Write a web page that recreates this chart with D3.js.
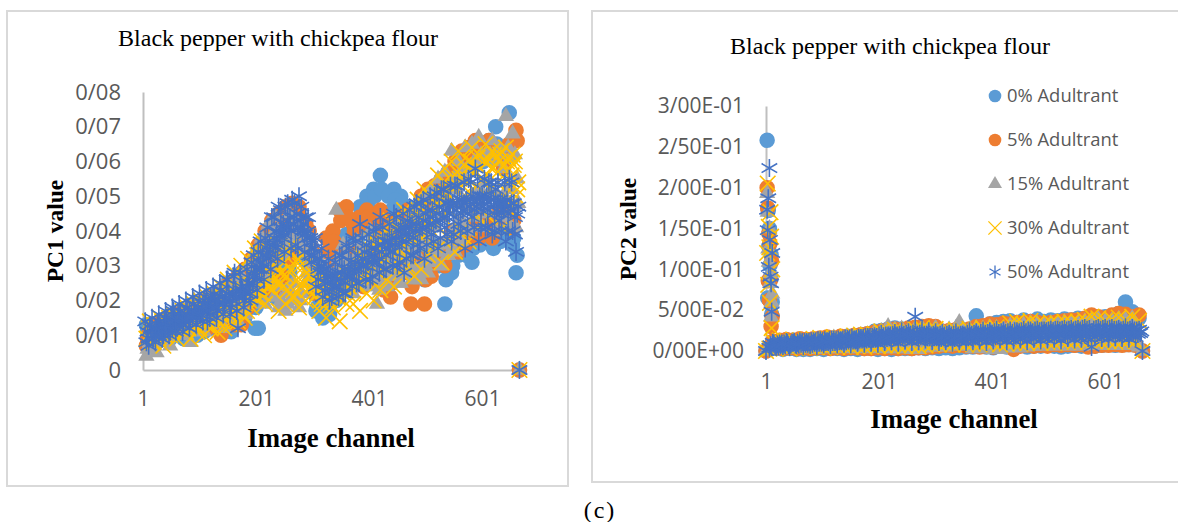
<!DOCTYPE html>
<html>
<head>
<meta charset="utf-8">
<script src="https://cdn.jsdelivr.net/npm/d3@7"></script>
<style>
html, body { margin: 0; background: #fff; }
text { font-family: "Open Sans", sans-serif; fill: #595959; }
.serif { font-family: "Liberation Serif", serif; fill: #000; }
</style>
</head>
<body>
<svg id="chart" width="1178" height="522"></svg>
<script>
//image channels sampled along the band, last one is the zero point at the end of the axis
var channels = d3.range(7, 668, 6).concat([668]);
var channelsB = d3.range(9, 668, 6);
var channelsC = d3.range(11, 668, 6);
var channelsD = d3.range(5, 668, 6);
var spikeChannels = [1, 3, 4, 5, 6, 7, 8, 9, 10, 11, 12];

var names = ['0% Adultrant', '5% Adultrant', '15% Adultrant', '30% Adultrant', '50% Adultrant'];

//PC1 values, in thousandths
var pc1_0 = [13,9,12,8,14,10,15,9,16,11, 14,9,17,10,18,10,19,11,20,12, 21,12,23,13,25,11,26,14,28,15,
	24,30,12,12,20,37,23,41,21,44, 25,46,30,47,33,44,36,40,30,26, 17,22,15,28,16,33,20,38,24,39,
	29,43,30,47,33,50,34,52,36,56, 37,51,39,52,35,50,30,47,28,44, 30,46,26,48,33,50,35,53,19,56,
	28,58,33,61,36,62,31,64,40,63, 37,66,36,70,38,63,42,74,36,28, 0];
var pc1_0b = [11,10,13,9,12,11,14,10,13,12, 12,11,15,12,16,11,17,12,18,13, 19,13,21,14,22,15,24,16,26,17,
	26,27,18,20,24,33,27,38,30,42, 33,44,28,45,35,42,32,38,28,22, 18,18,17,24,19,30,24,35,28,37,
	33,42,38,45,41,48,43,50,44,52, 45,50,46,49,40,48,36,46,33,42, 35,44,30,46,36,48,30,50,26,52,
	30,55,36,58,33,60,35,60,36,60, 38,62,35,65,37,60,40,62,38,33];
var pc1_5 = [7,11,8,13,9,14,10,15,11,16, 12,17,11,18,13,19,14,20,12,21, 13,22,10,24,14,25,13,27,13,29,
	18,32,22,36,25,40,24,43,22,45, 27,47,32,48,35,47,38,42,40,34, 22,30,24,38,27,40,30,46,33,47,
	27,42,29,44,24,46,28,41,25,46, 23,43,21,40,26,44,28,46,19,42, 30,50,19,52,27,53,32,55,30,57,
	38,60,34,63,36,64,40,66,38,65, 42,66,38,64,46,60,44,65,41,69, 0];
var pc1_5b = [9,10,11,12,10,13,12,12,13,14, 14,15,13,16,15,17,13,18,15,19, 15,20,12,22,16,23,15,25,17,27,
	20,30,25,34,28,38,30,41,33,43, 36,45,38,46,40,44,36,40,36,30, 25,28,26,34,29,37,33,43,35,44,
	33,40,34,42,30,44,33,40,30,43, 27,41,25,38,28,42,30,44,24,40, 32,47,26,49,30,50,33,52,33,54,
	40,57,37,60,38,62,42,63,40,62, 44,63,40,62,44,58,46,62,43,66];
var pc1_15 = [4,8,11,5,13,9,15,7,14,10, 17,10,18,8,20,12,19,11,21,13, 22,14,24,12,23,15,25,14,27,16,
	30,20,34,22,38,19,42,24,44,18, 40,17,45,22,43,18,41,25,38,28, 33,22,30,20,26,24,46,25,36,28,
	30,22,37,26,33,24,40,28,19,27, 38,24,34,27,42,25,38,29,44,26, 46,26,50,28,52,31,55,30,57,33,
	63,34,60,37,64,40,65,44,67,41, 62,45,66,40,64,44,73,42,68,41, 0];
var pc1_15b = [6,9,7,10,8,11,9,12,10,13, 12,14,11,15,13,16,14,17,15,18, 16,19,17,20,18,21,19,22,20,24,
	23,26,27,29,31,33,35,30,37,24, 33,22,38,25,36,20,34,28,31,24, 27,23,25,22,24,26,29,27,30,29,
	28,31,27,33,25,30,26,28,24,30, 26,31,27,33,25,32,28,30,26,34, 28,36,30,38,32,41,34,44,37,48,
	40,52,43,55,46,58,50,60,52,61, 54,62,50,60,48,58,52,61,47,55];
var pc1_15c = [7,6,9,8,10,9,11,10,12,11, 14,12,15,13,16,14,17,15,18,16, 19,16,20,17,21,18,22,19,23,20,
	26,22,30,25,34,26,38,21,40,20, 36,19,42,20,39,22,37,26,35,25, 30,24,28,23,27,25,32,26,33,27,
	29,26,34,29,30,27,36,29,23,28, 33,28,30,29,36,28,34,31,38,29, 40,30,44,32,46,34,48,36,50,38,
	55,40,57,42,58,46,60,48,62,50, 60,52,62,50,62,50,64,52,62,48];
var pc1_30 = [9,14,8,12,15,7,13,10,16,9, 16,12,18,9,19,11,20,10,21,12, 22,11,24,12,26,13,28,14,30,15,
	32,18,35,20,37,19,33,23,31,17, 28,19,34,21,30,18,33,20,27,22, 24,17,26,15,23,18,22,14,20,19,
	25,19,30,17,32,22,38,20,34,23, 40,26,43,24,38,28,46,30,44,27, 49,29,52,33,50,36,56,31,58,38,
	60,34,63,40,61,37,64,45,62,42, 65,44,63,48,60,41,64,46,62,50, 0];
var pc1_30b = [9,11,10,12,11,10,13,12,14,12, 13,14,12,15,13,16,14,15,13,16, 15,17,14,18,16,18,17,19,16,21,
	20,23,21,24,22,26,24,27,25,28, 24,27,29,23,26,30,25,28,24,26, 22,20,21,24,19,23,21,24,26,22,
	25,28,24,30,27,29,26,31,28,33, 32,35,30,37,34,36,33,39,37,41, 40,38,43,41,45,42,47,44,50,46,
	52,48,55,50,54,51,57,53,58,55, 60,52,58,54,62,50,60,55,59,52];
var pc1_30c = [12,8,13,9,14,10,15,11,15,12, 17,11,16,13,18,12,19,13,20,14, 19,16,21,15,23,16,24,18,26,17,
	28,21,33,22,36,24,35,26,34,25, 31,23,36,21,32,24,30,23,28,21, 26,19,24,20,22,23,25,26,28,24,
	27,30,29,33,31,35,33,36,35,38, 36,39,34,41,37,42,39,44,40,45, 43,47,45,50,47,52,49,54,51,55,
	54,57,56,59,55,60,57,61,58,60, 61,58,62,57,63,59,61,56,60,54];
var pc1_50 = [8,13,9,12,14,10,15,11,17,13, 17,13,18,14,19,15,16,20,14,21, 21,17,23,19,26,18,28,12,24,20,
	25,31,27,34,29,38,32,44,35,47, 38,47,41,49,36,50,40,44,33,37, 24,32,21,29,20,27,24,33,22,36,
	27,38,25,42,30,36,26,40,31,44, 29,37,34,45,30,41,28,43,33,47, 36,48,32,46,39,50,35,52,41,48,
	37,53,42,49,35,55,44,58,37,50, 41,54,39,52,43,48,37,55,40,34, 0];
var pc1_50b = [11,12,10,13,12,14,12,15,14,16, 15,16,15,17,17,18,17,19,18,20, 20,19,21,20,22,20,23,21,23,22,
	25,25,29,29,33,33,36,36,40,39, 42,41,44,42,45,41,42,38,38,33, 32,28,29,25,27,24,28,26,29,27,
	31,29,33,30,34,31,35,33,36,34, 37,35,38,36,40,37,41,39,42,40, 44,41,45,42,46,43,47,44,48,45,
	48,46,49,46,49,47,50,47,50,47, 50,47,49,46,49,46,49,46,48,45];
var pc1_50c = [9,10,12,10,11,12,14,12,13,14, 13,14,17,15,15,16,19,17,17,18, 18,21,19,22,19,22,21,23,21,24,
	22,27,26,31,30,35,33,38,36,41, 39,43,40,44,41,44,39,40,35,35, 29,30,25,27,23,26,24,28,25,29,
	27,31,29,32,30,33,31,35,32,36, 33,37,34,38,36,39,37,41,38,42, 40,43,41,44,42,45,43,46,44,47,
	44,48,45,48,45,49,46,49,46,49, 46,49,45,48,45,48,45,48,44,47];
var pc1_50d = [14,7,15,8,16,9,17,10,18,11, 19,11,20,12,21,13,22,14,23,15, 24,15,25,16,26,16,27,17,28,18,
	29,20,33,23,37,26,41,29,44,32, 46,34,48,35,48,35,47,34,44,31, 38,26,35,23,32,21,31,21,33,22,
	35,24,37,25,38,26,39,27,41,28, 41,29,42,30,44,31,45,32,46,33, 48,35,49,36,50,37,51,38,52,39,
	53,39,53,40,54,40,54,41,55,41, 55,41,54,40,54,40,54,40,54,39];

//PC2 values, in thousandths
var pc2_0 = [2,11,3,12,2,11,3,13,2,14, 2,13,2,14,3,15,2,16,3,15, 3,17,2,18,3,19,2,20,3,21,
	3,24,2,25,3,27,2,28,3,27, 3,26,3,28,4,27,3,29,4,26, 3,22,4,24,3,23,4,26,5,25,
	5,43,6,29,5,33,4,35,6,36, 5,37,6,35,7,38,5,36,6,39, 6,36,7,38,6,37,5,39,6,38,
	7,40,6,39,7,38,6,41,7,42, 8,43,7,46,8,60,9,48,8,40, 0];
var pc2_5 = [3,12,4,13,3,14,4,13,3,15, 4,14,3,15,4,16,4,17,3,16, 4,18,3,17,4,19,4,20,3,21,
	3,23,4,24,3,26,4,27,3,26, 4,28,3,29,4,30,4,31,5,30, 6,24,7,25,6,26,7,25,6,27,
	6,30,5,31,6,33,5,32,6,34, 7,33,2,35,6,34,7,36,6,35, 7,34,6,35,8,36,7,37,8,38,
	7,38,8,40,5,44,6,42,7,40, 7,44,8,46,7,45,8,42,7,44, 0];
var pc2_15 = [2,10,2,11,3,10,2,12,3,11, 3,13,3,14,2,13,3,15,3,16, 3,15,4,17,3,18,3,19,4,20,
	3,22,4,24,3,30,3,26,3,27, 3,25,2,27,2,28,4,26,5,28, 5,25,5,26,6,28,35,27,6,26,
	3,28,4,27,3,29,2,28,2,27, 4,31,5,33,4,32,5,34,6,33, 6,32,7,34,6,33,7,35,6,34,
	7,34,6,36,7,38,8,39,7,36, 7,37,8,39,7,38,8,40,7,5, 0];
var pc2_30 = [3,12,3,13,4,12,3,14,4,13, 5,14,4,15,5,16,4,15,5,17, 5,16,6,18,5,19,6,20,5,20,
	6,21,6,24,7,24,6,26,7,25, 6,25,7,27,6,28,7,26,8,27, 8,25,9,24,8,26,9,25,8,27,
	9,26,8,28,9,27,10,29,8,28, 9,34,10,36,9,33,10,37,11,34, 10,33,11,35,10,34,12,36,11,35,
	11,36,12,38,11,42,12,40,11,37, 12,39,11,41,12,38,13,42,12,37, 0];
var pc2_50 = [4,10,5,9,6,11,5,10,7,12, 6,11,7,12,6,13,8,12,7,14, 8,13,9,15,8,14,10,16,9,17,
	10,18,9,21,11,19,12,22,10,24, 13,23,11,42,12,25,14,24,12,23, 11,22,12,21,10,23,12,20,11,24,
	12,23,13,25,11,24,13,26,14,25, 12,25,13,24,14,26,12,25,15,26, 13,25,14,26,15,26,13,27,16,27,
	14,27,15,28,16,5,17,28,16,28, 15,28,17,27,16,29,15,28,17,26, 0];
var pc2_50b = [7,9,8,7,9,10,8,11,10,9, 11,9,12,10,13,10,13,11,14,11, 14,12,15,13,16,13,16,14,17,15,
	17,15,19,16,19,17,20,17,20,18, 21,18,21,18,21,18,20,17,20,17, 20,17,20,17,20,17,20,18,21,18,
	21,18,22,19,22,19,23,19,23,20, 23,20,24,20,24,21,25,21,25,21, 25,22,25,22,26,22,26,22,26,23,
	26,23,27,23,27,23,27,23,27,23, 27,23,26,22,26,22,26,22,25,22];
var pc2_50c = [5,6,6,9,7,7,10,8,8,11, 9,11,9,12,10,12,11,13,11,13, 12,14,12,15,13,15,14,16,14,17,
	15,17,16,18,16,19,17,19,17,20, 18,20,18,20,18,20,17,19,17,19, 16,19,16,19,16,19,17,19,17,20,
	18,20,18,21,18,21,18,22,19,22, 19,22,19,23,20,23,20,23,20,24, 21,24,21,24,21,25,21,25,22,25,
	22,25,22,26,22,26,22,26,23,26, 23,26,22,25,22,25,22,25,21,24];

//the spike at the first channels of PC2
var spike_0 = [0,258,65,172,128,150,105,90,118,45,60];
var spike_5 = [0,200,175,86,144,62,132,87,30,110,42];
var spike_15 = [0,193,170,125,109,150,83,95,42,60,70];
var spike_30 = [0,120,205,81,152,127,59,170,140,28,100];
var spike_50 = [0,173,148,187,103,224,136,91,83,48,120];

var pc1Ticks = [0, 0.01, 0.02, 0.03, 0.04, 0.05, 0.06, 0.07, 0.08];
var pc1Labels = ['0', '0/01', '0/02', '0/03', '0/04', '0/05', '0/06', '0/07', '0/08'];
var pc2Ticks = [0, 0.05, 0.1, 0.15, 0.2, 0.25, 0.3];
var pc2Labels = ['0/00E+00', '5/00E-02', '1/00E-01', '1/50E-01', '2/00E-01', '2/50E-01', '3/00E-01'];
var channelTicks = [1, 201, 401, 601];

var svg = d3.select('#chart');

//marker look for each series, same order as names
var markers = [
	{ 'type': d3.symbolCircle, 'size': 190, 'fill': '#5b9bd5' },
	{ 'type': d3.symbolCircle, 'size': 190, 'fill': '#ed7d31' },
	{ 'type': d3.symbolTriangle, 'size': 115, 'fill': '#a5a5a5' },
	{ 'type': d3.symbolTimes, 'size': 160, 'stroke': '#ffc000' },
	{ 'type': d3.symbolAsterisk, 'size': 230, 'stroke': '#4472c4' }
];

function drawMarkers(g, points, m, x, y) {
	g.selectAll(null)
		.data(points)
		.enter().append('path')
		.attr('transform', function(d) { return 'translate(' + x(d.c) + ',' + y(d.v) + ')'; })
		.attr('d', d3.symbol().type(m.type).size(m.size))
		.style('fill', m.fill || 'none')
		.style('stroke', m.stroke || 'none')
		.style('stroke-width', 1.6);
}

function toPoints(cs, vs) {
	return vs.map(function(v, i) { return { 'c': cs[i], 'v': v / 1000 }; });
}

function drawPanel(p) {
	svg.append('rect')
		.attr('x', p.frame[0])
		.attr('y', p.frame[1])
		.attr('width', p.frame[2])
		.attr('height', p.frame[3])
		.style('fill', '#fff')
		.style('stroke', '#d9d9d9')
		.style('stroke-width', 2);

	var x = d3.scaleLinear().domain([1, 668]).range(p.xRange);
	var y = d3.scaleLinear().domain(p.yDomain).range(p.yRange);

	//axes
	var yAxis = svg.append('g')
		.attr('transform', 'translate(' + p.xRange[0] + ',0)')
		.call(d3.axisLeft(y).tickValues(p.ticks).tickSize(0).tickPadding(p.yPad)
			.tickFormat(function(d, i) { return p.labels[i]; }));
	yAxis.selectAll('text').style('font-size', p.yFont + 'px');

	var xAxis = svg.append('g')
		.attr('transform', 'translate(0,' + p.yRange[0] + ')')
		.call(d3.axisBottom(x).tickValues(channelTicks).tickSize(0).tickPadding(p.xPad)
			.tickFormat(d3.format('d')));
	xAxis.selectAll('text').style('font-size', p.xFont + 'px');

	svg.selectAll('.domain')
		.style('stroke', '#bfbfbf')
		.style('stroke-width', 2);

	//series, each one as a list of [channels, values] passes
	p.series.forEach(function(passes, i) {
		var g = svg.append('g').attr('class', 'series-' + i);
		passes.forEach(function(pass) {
			drawMarkers(g, toPoints(pass[0], pass[1]), markers[i], x, y);
		});
	});

	//titles
	svg.append('text').attr('class', 'serif')
		.attr('x', p.title[0]).attr('y', p.title[1])
		.attr('text-anchor', 'middle')
		.style('font-size', '24px')
		.text('Black pepper with chickpea flour');

	svg.append('text').attr('class', 'serif')
		.attr('x', p.xLabel[0]).attr('y', p.xLabel[1])
		.attr('text-anchor', 'middle')
		.style('font-size', '26.8px')
		.style('font-weight', 'bold')
		.text('Image channel');

	svg.append('text').attr('class', 'serif')
		.attr('transform', 'translate(' + p.yLabel[0] + ',' + p.yLabel[1] + ') rotate(-90)')
		.attr('text-anchor', 'middle')
		.style('font-size', '23.5px')
		.style('font-weight', 'bold')
		.text(p.yText);
}

drawPanel({
	'frame': [7, 11, 561, 475],
	'xRange': [143, 520],
	'yRange': [370, 92],
	'yDomain': [0, 0.08],
	'ticks': pc1Ticks,
	'labels': pc1Labels,
	'yPad': 22,
	'xPad': 21,
	'yFont': 22,
	'xFont': 21,
	'series': [
		[[channels, pc1_0], [channelsB, pc1_0b]],
		[[channels, pc1_5], [channelsB, pc1_5b]],
		[[channels, pc1_15], [channelsB, pc1_15b], [channelsC, pc1_15c]],
		[[channels, pc1_30], [channelsB, pc1_30b], [channelsC, pc1_30c]],
		[[channels, pc1_50], [channelsB, pc1_50b], [channelsC, pc1_50c], [channelsD, pc1_50d]]
	],
	'title': [278, 46],
	'xLabel': [331, 447],
	'yLabel': [63, 231],
	'yText': 'PC1 value'
});

drawPanel({
	'frame': [592, 11, 590, 471],
	'xRange': [766, 1143],
	'yRange': [351, 106],
	'yDomain': [0, 0.3],
	'ticks': pc2Ticks,
	'labels': pc2Labels,
	'yPad': 22,
	'xPad': 23,
	'yFont': 21,
	'xFont': 21,
	'series': [
		[[spikeChannels, spike_0], [channels, pc2_0]],
		[[spikeChannels, spike_5], [channels, pc2_5]],
		[[spikeChannels, spike_15], [channels, pc2_15]],
		[[spikeChannels, spike_30], [channels, pc2_30]],
		[[spikeChannels, spike_50], [channels, pc2_50], [channelsB, pc2_50b], [channelsC, pc2_50c]]
	],
	'title': [890, 54],
	'xLabel': [954, 428],
	'yLabel': [636, 229],
	'yText': 'PC2 value'
});

//legend of the PC2 panel
var legendY = d3.scalePoint().domain(names).range([96, 272]);
var legend = svg.append('g');
names.forEach(function(n, i) {
	var m = markers[i];
	legend.append('path')
		.attr('transform', 'translate(995,' + legendY(n) + ')')
		.attr('d', d3.symbol().type(m.type).size(m.type === d3.symbolCircle ? 125 : (m.type === d3.symbolTriangle ? 85 : 115)))
		.style('fill', m.fill || 'none')
		.style('stroke', m.stroke || 'none')
		.style('stroke-width', 1.3);
	legend.append('text')
		.attr('x', 1007)
		.attr('y', legendY(n) + 6)
		.style('font-size', '18.4px')
		.text(n);
});

svg.append('text').attr('class', 'serif')
	.attr('x', 600).attr('y', 518)
	.attr('text-anchor', 'middle')
	.style('font-size', '24px')
	.style('letter-spacing', '2px')
	.text('(c)');
</script>
</body>
</html>
